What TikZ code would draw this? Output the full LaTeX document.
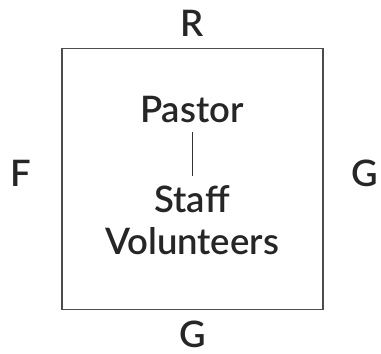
\documentclass[tikz,border=0pt]{standalone}
\usepackage{fontspec}
\setmainfont{Lato Semibold}
\usetikzlibrary{positioning}
\usetikzlibrary{calc}

\begin{document}
\begin{tikzpicture}[x=1pt,y=1pt,semithick]
		\tikzstyle{every node}=[inner sep=0pt,anchor=base,text=black!85,font=\fontsize{36.5}{40}\selectfont]
		\tikzstyle{frame}=[draw=black!70,line width=1.3pt]
		\useasboundingbox (0,0) rectangle (381,354);
		
		\node[frame,anchor=center,minimum width=261pt,minimum height=261pt] (box) at (192.5,175) {};
		
		\node         (R)       at (192.5,317) {R};
		\node         (F)       at (21,167)    {F};
		\node         (G_r)     at (365,167)   {G};
		\node         (G_b)     at (192.5,6)   {G};
		
		\node         (pastor)  at (192,231)   {Pastor};
		\node         (staff)   at (192,141)   {Staff};
		\node         (volunt)  at (192,99)    {Volunteers};
		
		\draw[black!80,line width=1pt,shorten <=8pt,shorten >=10pt] (pastor) -- (staff);
		\end{tikzpicture}
\end{document}
